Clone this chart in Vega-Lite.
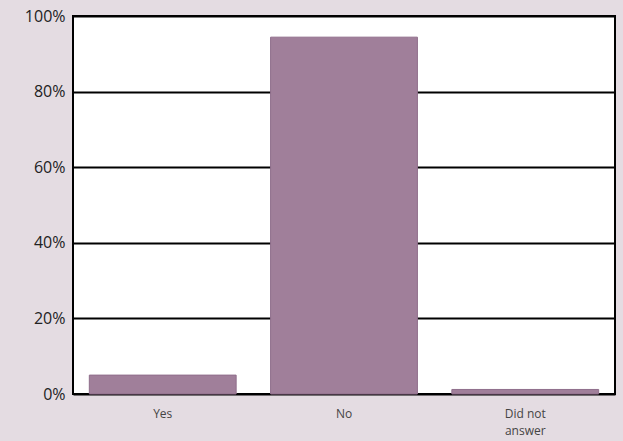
{
  "$schema": "https://vega.github.io/schema/vega-lite/v6.json",
  "autosize": "none",
  "width": 542,
  "height": 378,
  "padding": {"left": 73, "top": 16, "right": 8, "bottom": 47},
  "background": "#e4dce2",
  "config": {
    "view": {"fill": "white", "stroke": "black", "strokeWidth": 2},
    "font": "Open Sans"
  },
  "data": {
    "values": [
      {"answer": "Yes", "pct": 5.0},
      {"answer": "No", "pct": 94.4},
      {"answer": "Did not answer", "pct": 1.2}
    ]
  },
  "mark": {"type": "bar", "color": "#a07f9a", "stroke": "#8f6e8b", "strokeWidth": 1},
  "encoding": {
    "x": {
      "field": "answer",
      "type": "nominal",
      "sort": null,
      "scale": {"paddingInner": 0.19, "paddingOuter": 0.09},
      "axis": {
        "title": null,
        "domain": false,
        "ticks": false,
        "labelAngle": 0,
        "labelFontSize": 12,
        "labelLineHeight": 17,
        "labelColor": "#444444",
        "labelPadding": 14,
        "labelExpr": "datum.value == 'Did not answer' ? ['Did not', 'answer'] : datum.value"
      }
    },
    "y": {
      "field": "pct",
      "type": "quantitative",
      "scale": {"domain": [0, 100]},
      "axis": {
        "title": null,
        "values": [0, 20, 40, 60, 80, 100],
        "labelExpr": "datum.value + '%'",
        "labelFontSize": 16,
        "labelColor": "#222222",
        "labelPadding": 8,
        "domain": false,
        "ticks": false,
        "grid": true,
        "gridColor": "black",
        "gridWidth": 2,
        "gridOpacity": 1
      }
    }
  }
}
